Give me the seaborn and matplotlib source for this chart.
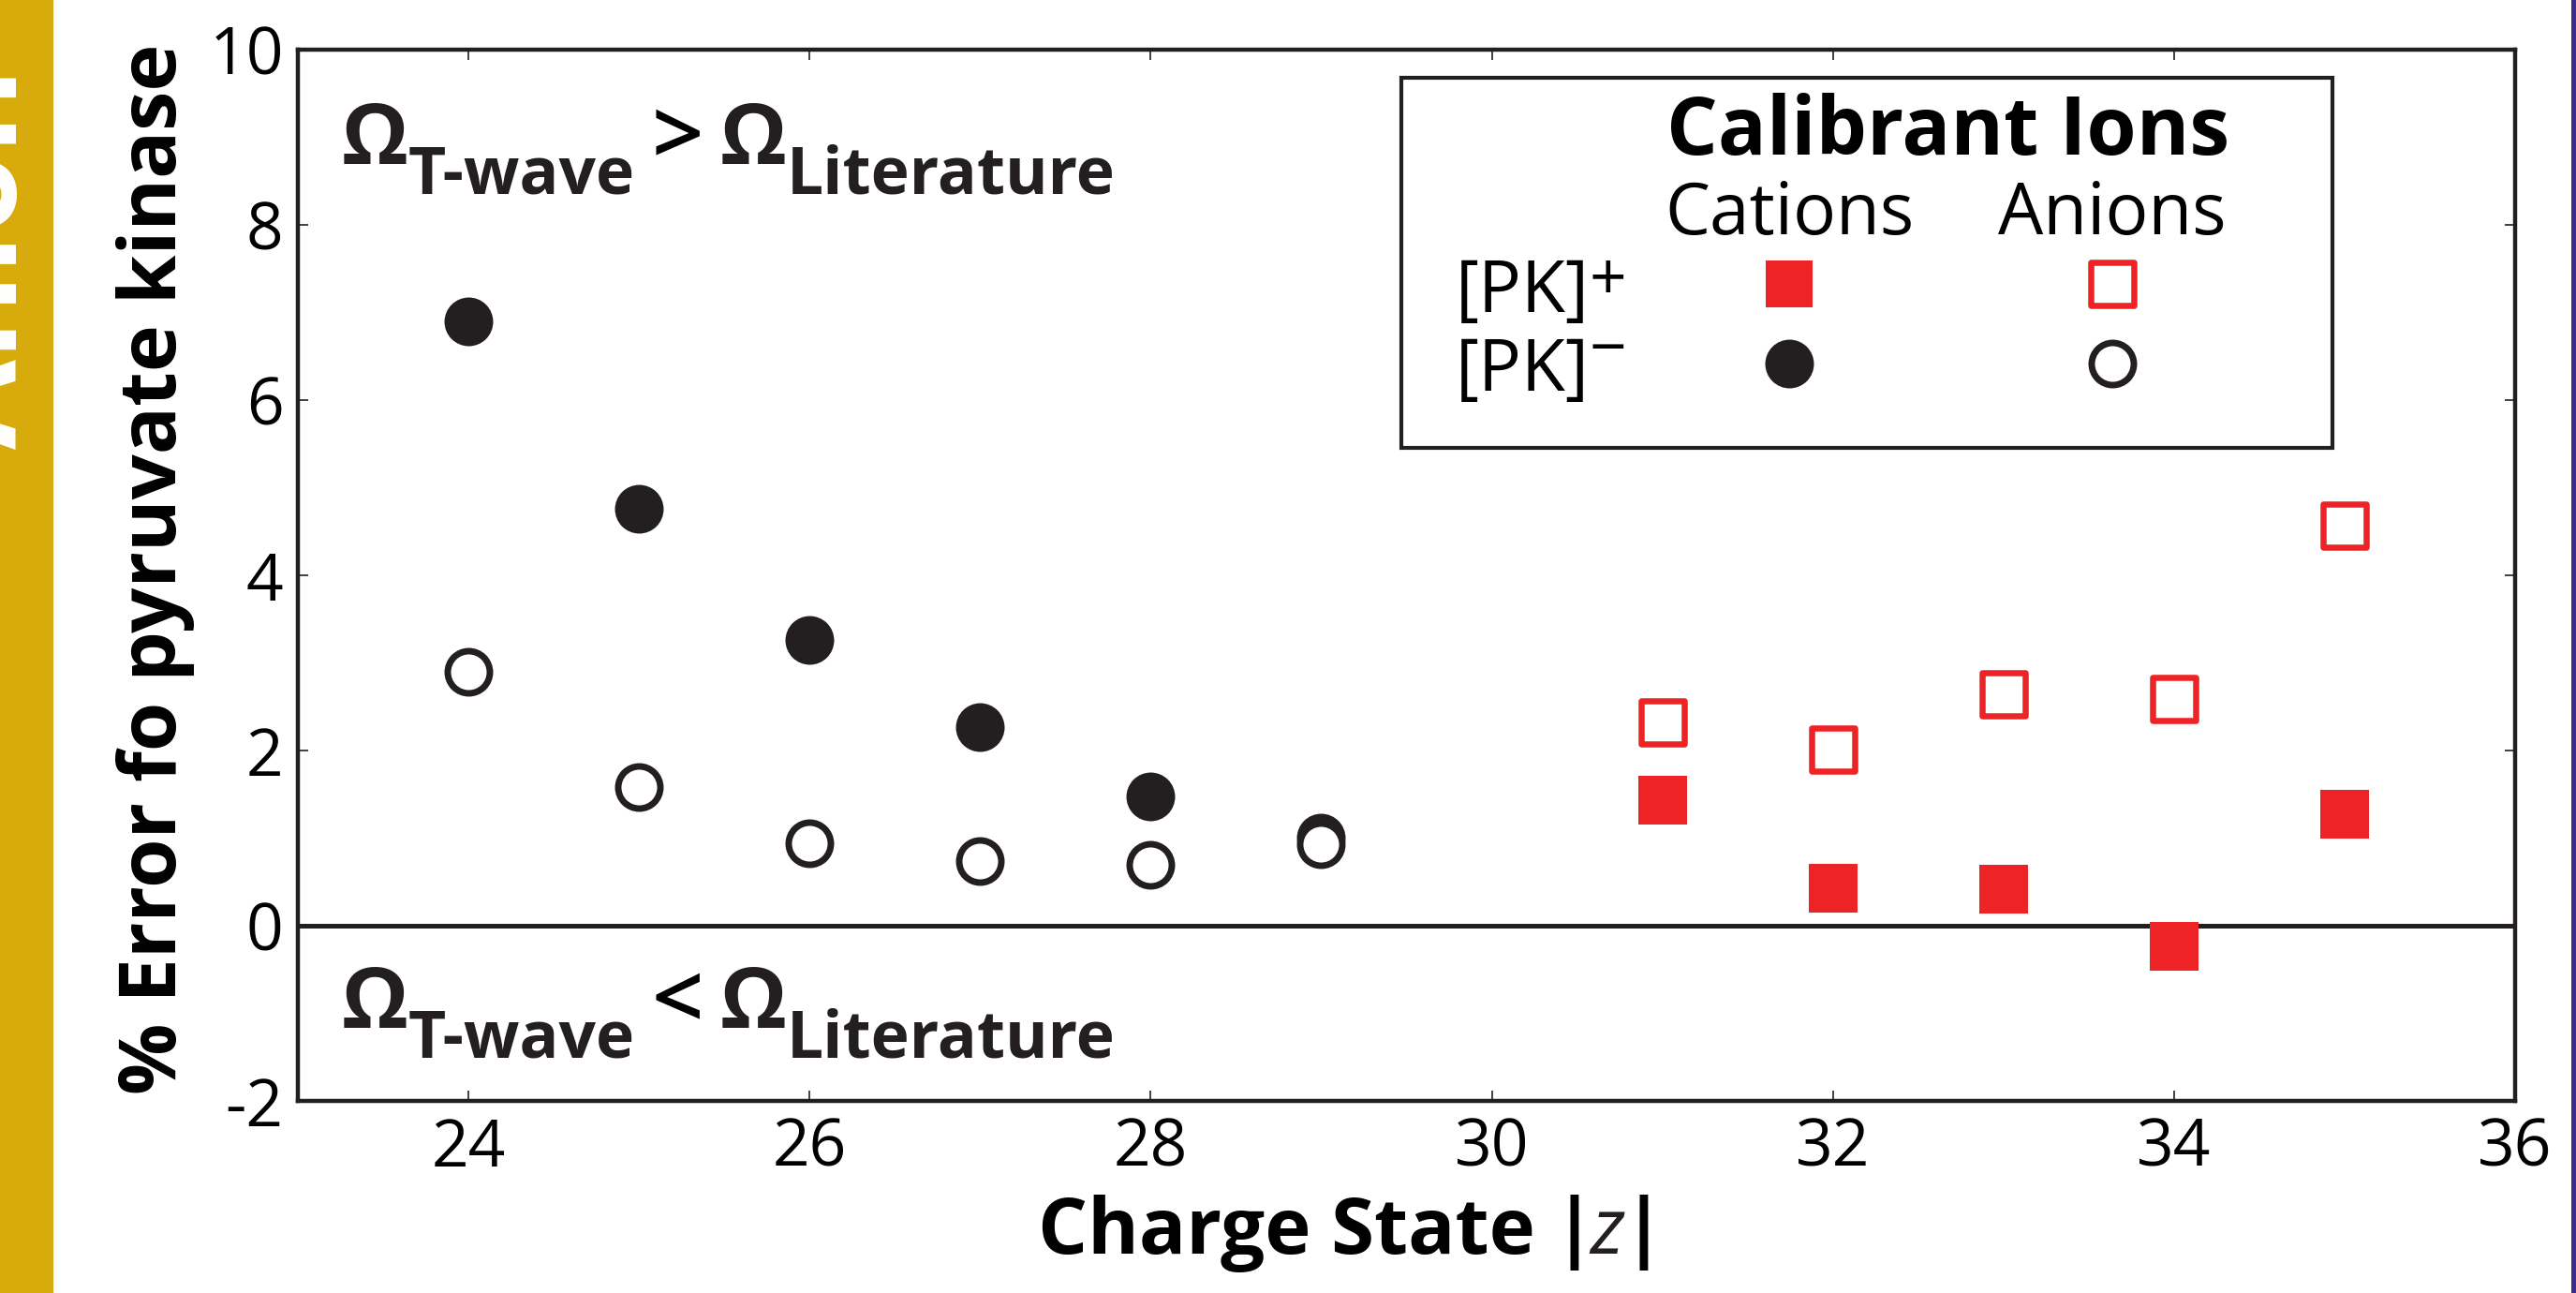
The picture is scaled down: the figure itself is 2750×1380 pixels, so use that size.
import numpy as np
import pandas as pd
import matplotlib
matplotlib.use("Agg")
import matplotlib.pyplot as plt
from matplotlib.patches import Rectangle
import seaborn as sns

# ---------------- data ----------------
charge_neg = [24, 25, 26, 27, 28, 29]
pk_neg_cation_cal = [6.90, 4.76, 3.26, 2.27, 1.48, 1.01]
pk_neg_anion_cal = [2.90, 1.58, 0.94, 0.74, 0.70, 0.93]

charge_pos = [31, 32, 33, 34, 35]
pk_pos_cation_cal = [1.43, 0.43, 0.42, -0.24, 1.27]
pk_pos_anion_cal = [2.32, 2.01, 2.64, 2.59, 4.57]

x_ticks = [24, 26, 28, 30, 32, 34, 36]
y_ticks = [-2, 0, 2, 4, 6, 8, 10]

# ---------------- style ----------------
BLACK = "#231F20"
RED = "#EE2326"
GOLD = "#D8AB0C"
PURPLE = "#3B2D86"

sns.set_theme(style="ticks")
plt.rcParams["font.family"] = ["Open Sans", "DejaVu Sans"]
plt.rcParams["axes.unicode_minus"] = False

fig = plt.figure(figsize=(27.5, 13.8), dpi=100)
ax = fig.add_axes([0.11564, 0.14855, 0.86073, 0.81304])

df_neg = pd.DataFrame({"z": charge_neg, "cat": pk_neg_cation_cal, "an": pk_neg_anion_cal})
df_pos = pd.DataFrame({"z": charge_pos, "cat": pk_pos_cation_cal, "an": pk_pos_anion_cal})

ax.axhline(0, color=BLACK, lw=3.6, zorder=2)

# [PK]- : filled circles (cation calibrants), open circles (anion calibrants)
sns.scatterplot(data=df_neg, x="z", y="cat", ax=ax, marker="o", s=1400,
                color=BLACK, linewidth=0, zorder=3)
sns.scatterplot(data=df_neg, x="z", y="an", ax=ax, marker="o", s=1050,
                color="white", edgecolor=BLACK, linewidth=5, zorder=4)
# [PK]+ : filled squares (cation calibrants), open squares (anion calibrants)
sns.scatterplot(data=df_pos, x="z", y="cat", ax=ax, marker="s", s=1400,
                color=RED, linewidth=0, zorder=3)
sns.scatterplot(data=df_pos, x="z", y="an", ax=ax, marker="s", s=1075,
                color="white", edgecolor=RED, linewidth=4.7, zorder=4)

ax.set_xlim(23, 36)
ax.set_ylim(-2, 10)
ax.set_xticks(x_ticks)
ax.set_yticks(y_ticks)
ax.set_xticklabels([str(v) for v in x_ticks])
ax.set_yticklabels([str(v) for v in y_ticks])
ax.tick_params(direction="in", length=8, width=1.2, color=BLACK,
               top=True, right=True, labelsize=50, labelcolor="black")
ax.tick_params(axis="x", pad=12)
ax.tick_params(axis="y", pad=11)
for sp in ax.spines.values():
    sp.set_linewidth(3.2)
    sp.set_color(BLACK)
    sp.set_visible(True)

ax.set_xlabel("")
ax.set_ylabel("% Error fo pyruvate kinase", fontsize=61, fontweight="bold", color="black")
ax.yaxis.set_label_coords(-0.0465, 0.506)

# x label: Charge State |z|
XB = -0.1453
c1 = ax.text(0.3338, XB, "Charge State", transform=ax.transAxes, fontsize=60,
             fontweight="bold", va="baseline", ha="left", color="black")
b1 = ax.annotate("|", xy=(1, XB), xycoords=(c1, "axes fraction"), xytext=(13, 0),
                 textcoords="offset points", fontsize=60, fontweight="bold",
                 va="baseline", ha="left", color="black")
zt = ax.annotate("z", xy=(1, XB), xycoords=(b1, "axes fraction"), xytext=(-4, 0),
                 textcoords="offset points", fontsize=60, fontstyle="italic",
                 fontweight="normal", va="baseline", ha="left", color=BLACK)
ax.annotate("|", xy=(1, XB), xycoords=(zt, "axes fraction"), xytext=(-2, 0),
            textcoords="offset points", fontsize=60, fontweight="bold",
            va="baseline", ha="left", color="black")


def omega_line(B, sym):
    o1 = ax.text(0.0195, B, "Ω", transform=ax.transAxes, fontsize=65,
                 fontweight="bold", va="baseline", ha="left", color=BLACK)
    s1 = ax.annotate("T-wave", xy=(1, B), xycoords=(o1, "axes fraction"),
                     xytext=(0, -23), textcoords="offset points", fontsize=50,
                     fontweight="bold", va="baseline", ha="left", color=BLACK)
    g = ax.annotate(sym, xy=(1, B), xycoords=(s1, "axes fraction"),
                    xytext=(13, 0), textcoords="offset points", fontsize=70,
                    fontweight="semibold", va="baseline", ha="left", color="black")
    o2 = ax.annotate("Ω", xy=(1, B), xycoords=(g, "axes fraction"),
                     xytext=(13, 0), textcoords="offset points", fontsize=65,
                     fontweight="bold", va="baseline", ha="left", color=BLACK)
    ax.annotate("Literature", xy=(1, B), xycoords=(o2, "axes fraction"),
                xytext=(0, -23), textcoords="offset points", fontsize=50,
                fontweight="bold", va="baseline", ha="left", color=BLACK)


omega_line(0.8913, ">")
omega_line(0.0695, "<")

# ---------------- legend box ----------------
ax.add_patch(Rectangle((0.4977, 0.6212), 0.9176 - 0.4977, 0.9733 - 0.6212,
                       transform=ax.transAxes, facecolor="white", edgecolor=BLACK,
                       lw=3.0, zorder=5, clip_on=False))
ax.text(0.744, 0.9002, "Calibrant Ions", transform=ax.transAxes, fontsize=62,
        fontweight="bold", ha="center", va="baseline", color="black", zorder=6)
ax.text(0.6726, 0.8244, "Cations", transform=ax.transAxes, fontsize=55,
        ha="center", va="baseline", color="black", zorder=6)
ax.text(0.8183, 0.8244, "Anions", transform=ax.transAxes, fontsize=55,
        ha="center", va="baseline", color="black", zorder=6)
pk1 = ax.text(0.5222, 0.7504, "[PK]", transform=ax.transAxes, fontsize=55,
              ha="left", va="baseline", color="black", zorder=6)
ax.annotate("+", xy=(1, 0.7620), xycoords=(pk1, "axes fraction"), xytext=(0, 0),
            textcoords="offset points", fontsize=50, ha="left", va="baseline",
            color="black", zorder=6)
pk2 = ax.text(0.5222, 0.6756, "[PK]", transform=ax.transAxes, fontsize=55,
              ha="left", va="baseline", color="black", zorder=6)
ax.annotate("\u2212", xy=(1, 0.6960), xycoords=(pk2, "axes fraction"), xytext=(0, 0),
            textcoords="offset points", fontsize=50, ha="left", va="baseline",
            color="black", zorder=6)

ax.scatter([0.6726], [0.7772], transform=ax.transAxes, marker="s", s=1250,
           color=RED, linewidth=0, zorder=7, clip_on=False)
ax.scatter([0.8183], [0.7772], transform=ax.transAxes, marker="s", s=1075,
           facecolor="white", edgecolor=RED, linewidth=4.7, zorder=7, clip_on=False)
ax.scatter([0.6726], [0.7014], transform=ax.transAxes, marker="o", s=1400,
           color=BLACK, linewidth=0, zorder=7, clip_on=False)
ax.scatter([0.8183], [0.7014], transform=ax.transAxes, marker="o", s=1050,
           facecolor="white", edgecolor=BLACK, linewidth=5, zorder=7, clip_on=False)

# ---------------- side decorations ----------------
fig.add_artist(Rectangle((0, 0), 57 / 2750, 1, transform=fig.transFigure,
                         facecolor=GOLD, edgecolor="none", zorder=0))
fig.text(18 / 2750, (1380 - 479) / 1380, "Anion", rotation=90, rotation_mode="anchor",
         ha="left", va="baseline", color="white", fontsize=100, fontweight="bold")
fig.add_artist(Rectangle((2745 / 2750, 0), 5 / 2750, 1, transform=fig.transFigure,
                         facecolor=PURPLE, edgecolor="none", zorder=0))

fig.savefig("out.png", dpi=100)
